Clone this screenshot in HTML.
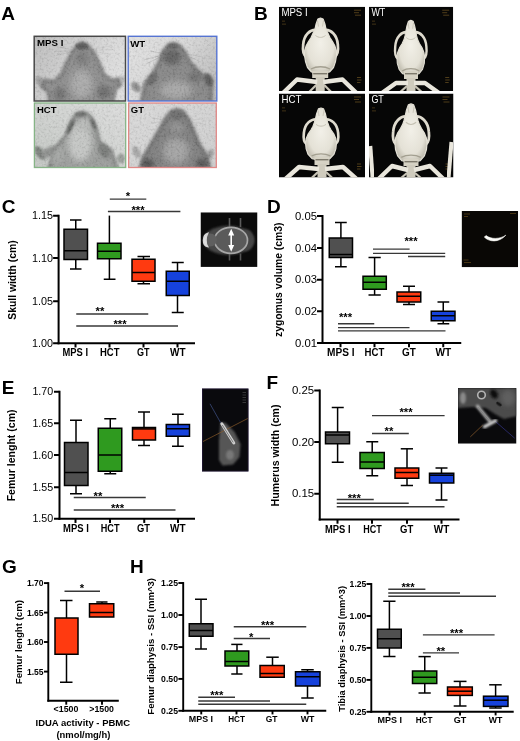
<!DOCTYPE html>
<html lang="en"><head><meta charset="utf-8"><title>Figure</title>
<style>html,body{margin:0;padding:0;background:#fff}svg{display:block;will-change:transform}text{font-family:"Liberation Sans",Arial,sans-serif}</style></head><body>
<svg width="520" height="741" viewBox="0 0 520 741">
<defs>
<filter id="b05" x="-30%" y="-30%" width="160%" height="160%"><feGaussianBlur stdDeviation="0.5"/></filter>
<filter id="b08" x="-30%" y="-30%" width="160%" height="160%"><feGaussianBlur stdDeviation="0.8"/></filter>
<filter id="b1" x="-30%" y="-30%" width="160%" height="160%"><feGaussianBlur stdDeviation="1"/></filter>
<filter id="b15" x="-30%" y="-30%" width="160%" height="160%"><feGaussianBlur stdDeviation="1.5"/></filter>
<filter id="b2" x="-30%" y="-30%" width="160%" height="160%"><feGaussianBlur stdDeviation="2"/></filter>
<filter id="b3" x="-30%" y="-30%" width="160%" height="160%"><feGaussianBlur stdDeviation="3"/></filter>
<filter id="b4" x="-30%" y="-30%" width="160%" height="160%"><feGaussianBlur stdDeviation="4"/></filter>
<filter id="grain" x="0" y="0" width="100%" height="100%"><feTurbulence type="fractalNoise" baseFrequency="0.45" numOctaves="2" seed="3" result="n"/><feColorMatrix in="n" type="matrix" values="2.6 0 0 0 -0.8  2.6 0 0 0 -0.8  2.6 0 0 0 -0.8  0 0 0 0 0.07"/></filter>
<linearGradient id="bgA1" x1="0" y1="0" x2="1" y2="0.3"><stop offset="0" stop-color="#bdbdbd"/><stop offset="0.5" stop-color="#cfcfcf"/><stop offset="1" stop-color="#dedede"/></linearGradient>
<linearGradient id="bgA2" x1="0" y1="0" x2="1" y2="0.6"><stop offset="0" stop-color="#e2e2e2"/><stop offset="0.55" stop-color="#d6d6d6"/><stop offset="1" stop-color="#bcbcbc"/></linearGradient>
<linearGradient id="bgA3" x1="0" y1="1" x2="1" y2="0"><stop offset="0" stop-color="#c2c6c2"/><stop offset="0.6" stop-color="#d2d4d2"/><stop offset="1" stop-color="#dcdcdc"/></linearGradient>
<linearGradient id="bgA4" x1="0" y1="0" x2="1" y2="1"><stop offset="0" stop-color="#d9d9d9"/><stop offset="1" stop-color="#cdcdcd"/></linearGradient>
<radialGradient id="skullG" cx="0.5" cy="0.45" r="0.6"><stop offset="0" stop-color="#f2f0e8"/><stop offset="0.7" stop-color="#e4e1d6"/><stop offset="1" stop-color="#bdb9ab"/></radialGradient>
<clipPath id="cA1"><rect x="34.2" y="36.3" width="91.3" height="64.7"/></clipPath>
<clipPath id="cA2"><rect x="128.2" y="36.3" width="88.6" height="64.7"/></clipPath>
<clipPath id="cA3"><rect x="34.4" y="103" width="91.3" height="64.5"/></clipPath>
<clipPath id="cA4"><rect x="128.6" y="103" width="87.7" height="64.5"/></clipPath>
<clipPath id="cB1"><rect x="279" y="6.7" width="86" height="84.3"/></clipPath>
<clipPath id="cB2"><rect x="369" y="6.7" width="84.2" height="84.3"/></clipPath>
<clipPath id="cB3"><rect x="279" y="93.5" width="86" height="84"/></clipPath>
<clipPath id="cB4"><rect x="369" y="93.5" width="84.5" height="84"/></clipPath>
<clipPath id="cC"><rect x="200.5" y="212.3" width="57" height="54.6"/></clipPath>
<clipPath id="cD"><rect x="461.6" y="211" width="56.5" height="56.3"/></clipPath>
<clipPath id="cE"><rect x="202" y="388.5" width="46.5" height="83"/></clipPath>
<clipPath id="cF"><rect x="458" y="388" width="58.5" height="55.7"/></clipPath>
</defs>
<g id="panelA">
<g clip-path="url(#cA1)">
<rect x="34.2" y="36.3" width="91.3" height="64.7" fill="url(#bgA1)"/>
<line x1="77" y1="50.5" x2="55" y2="46.5" stroke="#a2a2a2" stroke-width="0.5" opacity="0.8"/>
<line x1="77" y1="50.5" x2="54" y2="51.5" stroke="#a2a2a2" stroke-width="0.5" opacity="0.8"/>
<line x1="77" y1="50.5" x2="56" y2="55.5" stroke="#a2a2a2" stroke-width="0.5" opacity="0.8"/>
<line x1="88" y1="50.5" x2="112" y2="45.5" stroke="#bababa" stroke-width="0.5" opacity="0.8"/>
<line x1="88" y1="50.5" x2="113" y2="49.5" stroke="#bababa" stroke-width="0.5" opacity="0.8"/>
<line x1="88" y1="50.5" x2="111" y2="54.5" stroke="#bababa" stroke-width="0.5" opacity="0.8"/>
<ellipse cx="41" cy="82" rx="4.2" ry="6.5" fill="#9c9c9c" filter="url(#b1)" transform="rotate(-40 41 82)"/>
<ellipse cx="120.5" cy="81" rx="4" ry="6" fill="#b6b6b6" filter="url(#b1)" transform="rotate(40 120.5 81)"/>
<path d="M50 104 L48 91.5 L42 87 L45 80 L54 81.5 L61.5 74 L65.4 64.6 L71.2 53.8 L77 45.3 L82 42.3 L87.5 45 L94.2 53 L100 64.6 L103.8 74.2 L111.5 80 L118 79 L120 85.5 L115.4 89.6 L112.7 104 Z" fill="#8c8c8c" filter="url(#b1)"/>
<path d="M50 104 L48 91.5 L42 87 L45 80 L54 81.5 L61.5 74 L65.4 64.6 L71.2 53.8 L77 45.3 L82 42.3 L87.5 45 L94.2 53 L100 64.6 L103.8 74.2 L111.5 80 L118 79 L120 85.5 L115.4 89.6 L112.7 104" fill="none" stroke="#686868" stroke-width="3" stroke-linejoin="round" filter="url(#b15)" opacity="0.75"/>
<ellipse cx="82" cy="46.5" rx="6.2" ry="3.4" fill="#555555" filter="url(#b1)"/>
<ellipse cx="82" cy="58" rx="7" ry="7" fill="#7a7a7a" filter="url(#b2)"/>
<ellipse cx="81.5" cy="84" rx="11" ry="14" fill="#a9a9a9" filter="url(#b3)"/>
<ellipse cx="60" cy="94" rx="6" ry="7" fill="#707070" filter="url(#b2)"/>
<ellipse cx="104" cy="92" rx="7" ry="7" fill="#6c6c6c" filter="url(#b2)"/>
<rect x="34.2" y="36.3" width="91.3" height="64.7" filter="url(#grain)"/>
</g>
<rect x="34.2" y="36.3" width="91.3" height="64.7" fill="none" stroke="#484848" stroke-width="1.5"/>
<text x="37" y="46.3" font-size="9.9" font-weight="700" textLength="26.4" lengthAdjust="spacingAndGlyphs">MPS I</text>
<g clip-path="url(#cA2)">
<rect x="128.2" y="36.3" width="88.6" height="64.7" fill="url(#bgA2)"/>
<line x1="166" y1="54" x2="144" y2="60" stroke="#9c9c9c" stroke-width="0.5" opacity="0.8"/>
<line x1="166" y1="54" x2="146" y2="64" stroke="#9c9c9c" stroke-width="0.5" opacity="0.8"/>
<line x1="166" y1="54" x2="150" y2="51" stroke="#9c9c9c" stroke-width="0.5" opacity="0.8"/>
<line x1="181" y1="53" x2="203" y2="57" stroke="#aaa" stroke-width="0.5" opacity="0.8"/>
<line x1="181" y1="53" x2="201" y2="62" stroke="#aaa" stroke-width="0.5" opacity="0.8"/>
<ellipse cx="136" cy="87" rx="4" ry="6" fill="#8e8e8e" filter="url(#b1)" transform="rotate(-40 136 87)"/>
<path d="M141 104 L145 83 L153 73 L159.5 61 L163 51.5 L168 45.5 L173 43.3 L179 45.5 L184.5 51.5 L190.5 63 L201 74 L211.5 80 L211 104 Z" fill="#868686" filter="url(#b1)"/>
<path d="M141 104 L145 83 L153 73 L159.5 61 L163 51.5 L168 45.5 L173 43.3 L179 45.5 L184.5 51.5 L190.5 63 L201 74 L211.5 80 L211 104" fill="none" stroke="#636363" stroke-width="3.5" stroke-linejoin="round" filter="url(#b15)" opacity="0.75"/>
<ellipse cx="172" cy="57" rx="9" ry="8" fill="#606060" filter="url(#b2)"/>
<ellipse cx="173" cy="46.5" rx="6" ry="3" fill="#646464" filter="url(#b1)"/>
<ellipse cx="176" cy="90" rx="16" ry="9" fill="#a6a6a6" filter="url(#b3)"/>
<ellipse cx="152.5" cy="79" rx="4" ry="7" fill="#686868" filter="url(#b1)" transform="rotate(30 152.5 79)"/>
<ellipse cx="208.5" cy="80" rx="4" ry="7" fill="#5c5c5c" filter="url(#b1)" transform="rotate(-15 208.5 80)"/>
<ellipse cx="195" cy="77" rx="7" ry="5" fill="#6e6e6e" filter="url(#b2)"/>
<rect x="128.2" y="36.3" width="88.6" height="64.7" filter="url(#grain)"/>
</g>
<rect x="128.2" y="36.3" width="88.6" height="64.7" fill="none" stroke="#5674d2" stroke-width="1.4"/>
<text x="130.2" y="46.6" font-size="9.9" font-weight="700" textLength="15" lengthAdjust="spacingAndGlyphs">WT</text>
<g clip-path="url(#cA3)">
<rect x="34.4" y="103" width="91.3" height="64.5" fill="url(#bgA3)"/>
<ellipse cx="40" cy="153" rx="4" ry="8" fill="#7c807c" filter="url(#b1)" transform="rotate(-35 40 153)"/>
<ellipse cx="49" cy="152" rx="9" ry="4.5" fill="#8c8e8c" filter="url(#b15)" transform="rotate(-28 49 152)"/>
<ellipse cx="121" cy="158.5" rx="4" ry="5" fill="#9a9e9a" filter="url(#b1)"/>
<path d="M48 171 L55 148 L65.5 136 L69 126 L72.5 119 L77 114 L82 112 L87 113.5 L91.5 117.5 L96.5 129 L99.5 142 L111 150 L118 171 Z" fill="#9a9c9a" filter="url(#b1)"/>
<path d="M48 171 L55 148 L65.5 136 L69 126 L72.5 119 L77 114 L82 112 L87 113.5 L91.5 117.5 L96.5 129 L99.5 142 L111 150 L118 171" fill="none" stroke="#6a6c6a" stroke-width="3" stroke-linejoin="round" filter="url(#b15)" opacity="0.75"/>
<ellipse cx="80" cy="142" rx="12" ry="19" fill="#c4c6c4" filter="url(#b3)"/>
<ellipse cx="84" cy="125" rx="6" ry="7" fill="#b8bab8" filter="url(#b2)"/>
<ellipse cx="80.5" cy="114.5" rx="6" ry="2.6" fill="#6e706e" filter="url(#b1)"/>
<ellipse cx="70.5" cy="127" rx="2" ry="8" fill="#5c5e5c" filter="url(#b1)" transform="rotate(25 70.5 127)"/>
<ellipse cx="93.5" cy="124" rx="2" ry="6" fill="#666866" filter="url(#b1)" transform="rotate(-20 93.5 124)"/>
<ellipse cx="104" cy="151" rx="5" ry="8" fill="#787a78" filter="url(#b15)" transform="rotate(-30 104 151)"/>
<ellipse cx="58" cy="156" rx="6" ry="9" fill="#a2a4a2" filter="url(#b2)" transform="rotate(25 58 156)"/>
<rect x="34.4" y="103" width="91.3" height="64.5" filter="url(#grain)"/>
</g>
<rect x="34.4" y="103" width="91.3" height="64.5" fill="none" stroke="#86b486" stroke-width="1.3"/>
<text x="37" y="112.9" font-size="9.9" font-weight="700" textLength="19.5" lengthAdjust="spacingAndGlyphs">HCT</text>
<g clip-path="url(#cA4)">
<rect x="128.6" y="103" width="87.7" height="64.5" fill="url(#bgA4)"/>
<line x1="170" y1="121" x2="152" y2="118" stroke="#b0b0b0" stroke-width="0.5" opacity="0.8"/>
<line x1="170" y1="121" x2="151" y2="123" stroke="#b0b0b0" stroke-width="0.5" opacity="0.8"/>
<line x1="184" y1="121" x2="203" y2="119" stroke="#b8b8b8" stroke-width="0.5" opacity="0.8"/>
<line x1="184" y1="121" x2="204" y2="124" stroke="#b8b8b8" stroke-width="0.5" opacity="0.8"/>
<ellipse cx="136.5" cy="152" rx="3.5" ry="6.5" fill="#a4a4a4" filter="url(#b1)" transform="rotate(-25 136.5 152)"/>
<ellipse cx="210.5" cy="154" rx="3" ry="5" fill="#9c9c9c" filter="url(#b1)" transform="rotate(20 210.5 154)"/>
<path d="M140 171 L143 158 L151 144 L158.5 131 L166 117.5 L171 111.5 L177 109.5 L183 111.5 L187.5 117.5 L193 129 L199 144 L207 156 L210 171 Z" fill="#7e7e7e" filter="url(#b1)"/>
<path d="M140 171 L143 158 L151 144 L158.5 131 L166 117.5 L171 111.5 L177 109.5 L183 111.5 L187.5 117.5 L193 129 L199 144 L207 156 L210 171" fill="none" stroke="#5e5e5e" stroke-width="3.5" stroke-linejoin="round" filter="url(#b15)" opacity="0.75"/>
<ellipse cx="177" cy="115.5" rx="7" ry="4.5" fill="#6c6c6c" filter="url(#b1)"/>
<ellipse cx="176" cy="151" rx="13" ry="13" fill="#a2a2a2" filter="url(#b3)"/>
<ellipse cx="176.5" cy="128" rx="7" ry="5" fill="#909090" filter="url(#b2)"/>
<ellipse cx="148" cy="164" rx="6" ry="5" fill="#4c4c4c" filter="url(#b2)"/>
<ellipse cx="202" cy="163.5" rx="6" ry="5" fill="#525252" filter="url(#b2)"/>
<rect x="128.6" y="103" width="87.7" height="64.5" filter="url(#grain)"/>
</g>
<rect x="128.6" y="103" width="87.7" height="64.5" fill="none" stroke="#e08886" stroke-width="1.3"/>
<text x="130.8" y="112.9" font-size="9.9" font-weight="700" textLength="13.2" lengthAdjust="spacingAndGlyphs">GT</text>
</g>
<g id="panelB">
<g clip-path="url(#cB1)">
<rect x="279" y="6.7" width="86" height="84.3" fill="#060606"/>
<rect x="354" y="9.7" width="7" height="1" fill="#8a6a2a" opacity="0.55"/>
<rect x="354" y="12.2" width="5" height="1" fill="#8a6a2a" opacity="0.55"/>
<rect x="355" y="14.7" width="6" height="1" fill="#8a6a2a" opacity="0.55"/>
<rect x="357" y="77" width="4" height="1" fill="#8a6a2a" opacity="0.55"/>
<rect x="357" y="79.5" width="4.5" height="1" fill="#8a6a2a" opacity="0.55"/>
<rect x="357" y="82" width="3.5" height="1" fill="#8a6a2a" opacity="0.55"/>
<rect x="282" y="20.7" width="3" height="0.8" fill="#8a6a2a" opacity="0.55"/>
<rect x="282" y="23.7" width="4" height="0.8" fill="#8a6a2a" opacity="0.55"/>
<g transform="translate(320.5 50.5) scale(1 1)">
<path d="M-4.5 -20.5 C-10 -21 -16.5 -16 -17.3 -6 C-18 0 -17.5 4 -14.5 6" fill="none" stroke="#dedace" stroke-width="2.7" stroke-linecap="round" filter="url(#b05)"/>
<path d="M4.5 -20.5 C10 -21 16.5 -16 17.3 -6 C18 0 17.5 4 14.5 6" fill="none" stroke="#dedace" stroke-width="2.7" stroke-linecap="round" filter="url(#b05)"/>
<path d="M0 -32.5 L2.6 -31.5 L4.4 -26.5 L5.6 -21 L7.6 -17 L9.4 -13 L12 -9 L14.2 -5 L15.8 0 L16 5 L15 11 L13 17 L9 21.5 L0 23.3 L-9 21.5 L-13 17 L-15 11 L-16 5 L-15.8 0 L-14.2 -5 L-12 -9 L-9.4 -13 L-7.6 -17 L-5.6 -21 L-4.4 -26.5 L-2.6 -31.5 Z" fill="url(#skullG)" stroke="#e4e1d6" stroke-width="1.2" stroke-linejoin="round" filter="url(#b05)"/>
<path d="M-9.5 18.5 C-4 15.5 4 15.5 9.5 18.5" fill="none" stroke="#a39f90" stroke-width="1.3" filter="url(#b05)"/>
<path d="M-5 -15 C-2 -12.5 2 -12.5 5 -15" fill="none" stroke="#c4c0b2" stroke-width="1" filter="url(#b05)"/>
<path d="M0 -12 L0 14" fill="none" stroke="#d3cfc2" stroke-width="0.8" filter="url(#b05)"/>
<path d="M-3 -30 L-2 -24 M3 -30 L2 -24" fill="none" stroke="#bdb9ab" stroke-width="0.7" filter="url(#b05)"/>
</g>
<rect x="312.2" y="71" width="16" height="7" fill="#d6d2c4" filter="url(#b05)"/>
<rect x="313.2" y="73" width="14" height="1.4" fill="#7d796c"/>
<rect x="315.7" y="77" width="9" height="15" fill="#cfcbbd" filter="url(#b05)"/>
<path d="M316.2 85 L307.2 94" fill="none" stroke="#c9c5b7" stroke-width="2.2" filter="url(#b05)"/>
<path d="M324.2 85 L333.2 94" fill="none" stroke="#c9c5b7" stroke-width="2.2" filter="url(#b05)"/>
<path d="M317.2 82 L297 79.5 L283 93" fill="none" stroke="#e9e6dc" stroke-width="4.4" stroke-linejoin="round" filter="url(#b05)"/>
<path d="M323.2 82 L342.5 79.5 L356.5 93" fill="none" stroke="#e9e6dc" stroke-width="4.4" stroke-linejoin="round" filter="url(#b05)"/>
</g>
<text x="281.4" y="16.3" font-size="10.2" textLength="26.3" lengthAdjust="spacingAndGlyphs" fill="#fff">MPS I</text>
<g clip-path="url(#cB2)">
<rect x="369" y="6.7" width="84.2" height="84.3" fill="#060606"/>
<rect x="442.2" y="9.7" width="7" height="1" fill="#8a6a2a" opacity="0.55"/>
<rect x="442.2" y="12.2" width="5" height="1" fill="#8a6a2a" opacity="0.55"/>
<rect x="443.2" y="14.7" width="6" height="1" fill="#8a6a2a" opacity="0.55"/>
<rect x="445.2" y="77" width="4" height="1" fill="#8a6a2a" opacity="0.55"/>
<rect x="445.2" y="79.5" width="4.5" height="1" fill="#8a6a2a" opacity="0.55"/>
<rect x="445.2" y="82" width="3.5" height="1" fill="#8a6a2a" opacity="0.55"/>
<rect x="372" y="20.7" width="3" height="0.8" fill="#8a6a2a" opacity="0.55"/>
<rect x="372" y="23.7" width="4" height="0.8" fill="#8a6a2a" opacity="0.55"/>
<g transform="translate(410.8 52.5) scale(0.9 0.99)">
<path d="M-4.5 -20.5 C-10 -21 -16.5 -16 -17.3 -6 C-18 0 -17.5 4 -14.5 6" fill="none" stroke="#dedace" stroke-width="2.7" stroke-linecap="round" filter="url(#b05)"/>
<path d="M4.5 -20.5 C10 -21 16.5 -16 17.3 -6 C18 0 17.5 4 14.5 6" fill="none" stroke="#dedace" stroke-width="2.7" stroke-linecap="round" filter="url(#b05)"/>
<path d="M0 -32.5 L2.6 -31.5 L4.4 -26.5 L5.6 -21 L6.4 -17 L7.6 -13 L9.6 -9 L12.4 -5 L14.6 0 L15.4 5 L15 11 L13 17 L9 21.5 L0 23.3 L-9 21.5 L-13 17 L-15 11 L-15.4 5 L-14.6 0 L-12.4 -5 L-9.6 -9 L-7.6 -13 L-6.4 -17 L-5.6 -21 L-4.4 -26.5 L-2.6 -31.5 Z" fill="url(#skullG)" stroke="#e4e1d6" stroke-width="1.2" stroke-linejoin="round" filter="url(#b05)"/>
<path d="M-9.5 18.5 C-4 15.5 4 15.5 9.5 18.5" fill="none" stroke="#a39f90" stroke-width="1.3" filter="url(#b05)"/>
<path d="M-5 -15 C-2 -12.5 2 -12.5 5 -15" fill="none" stroke="#c4c0b2" stroke-width="1" filter="url(#b05)"/>
<path d="M0 -12 L0 14" fill="none" stroke="#d3cfc2" stroke-width="0.8" filter="url(#b05)"/>
<path d="M-3 -30 L-2 -24 M3 -30 L2 -24" fill="none" stroke="#bdb9ab" stroke-width="0.7" filter="url(#b05)"/>
</g>
<rect x="404" y="71" width="14" height="8" fill="#d6d2c4" filter="url(#b05)"/>
<rect x="405" y="73" width="12" height="1.4" fill="#7d796c"/>
<rect x="406.5" y="78" width="9" height="14" fill="#cfcbbd" filter="url(#b05)"/>
<path d="M407 86 L398 94" fill="none" stroke="#c9c5b7" stroke-width="2.2" filter="url(#b05)"/>
<path d="M415 86 L424 94" fill="none" stroke="#c9c5b7" stroke-width="2.2" filter="url(#b05)"/>
<path d="M408 83 L396 83 L382 93" fill="none" stroke="#e9e6dc" stroke-width="4.4" stroke-linejoin="round" filter="url(#b05)"/>
<path d="M414 83 L425 83 L439 93" fill="none" stroke="#e9e6dc" stroke-width="4.4" stroke-linejoin="round" filter="url(#b05)"/>
</g>
<text x="371.4" y="16.3" font-size="10.2" textLength="13.9" lengthAdjust="spacingAndGlyphs" fill="#fff">WT</text>
<g clip-path="url(#cB3)">
<rect x="279" y="93.5" width="86" height="84" fill="#060606"/>
<rect x="354" y="96.5" width="7" height="1" fill="#8a6a2a" opacity="0.55"/>
<rect x="354" y="99" width="5" height="1" fill="#8a6a2a" opacity="0.55"/>
<rect x="355" y="101.5" width="6" height="1" fill="#8a6a2a" opacity="0.55"/>
<rect x="357" y="163.5" width="4" height="1" fill="#8a6a2a" opacity="0.55"/>
<rect x="357" y="166" width="4.5" height="1" fill="#8a6a2a" opacity="0.55"/>
<rect x="357" y="168.5" width="3.5" height="1" fill="#8a6a2a" opacity="0.55"/>
<rect x="282" y="107.5" width="3" height="0.8" fill="#8a6a2a" opacity="0.55"/>
<rect x="282" y="110.5" width="4" height="0.8" fill="#8a6a2a" opacity="0.55"/>
<g transform="translate(321 138.5) scale(0.99 0.94)">
<path d="M-4.5 -20.5 C-10 -21 -16.5 -16 -17.3 -6 C-18 0 -17.5 4 -14.5 6" fill="none" stroke="#dedace" stroke-width="2.7" stroke-linecap="round" filter="url(#b05)"/>
<path d="M4.5 -20.5 C10 -21 16.5 -16 17.3 -6 C18 0 17.5 4 14.5 6" fill="none" stroke="#dedace" stroke-width="2.7" stroke-linecap="round" filter="url(#b05)"/>
<path d="M0 -32.5 L2.6 -31.5 L4.4 -26.5 L5.6 -21 L6.7 -17 L8.05 -13 L10.2 -9 L12.85 -5 L14.9 0 L15.55 5 L15 11 L13 17 L9 21.5 L0 23.3 L-9 21.5 L-13 17 L-15 11 L-15.55 5 L-14.9 0 L-12.85 -5 L-10.2 -9 L-8.05 -13 L-6.7 -17 L-5.6 -21 L-4.4 -26.5 L-2.6 -31.5 Z" fill="url(#skullG)" stroke="#e4e1d6" stroke-width="1.2" stroke-linejoin="round" filter="url(#b05)"/>
<path d="M-9.5 18.5 C-4 15.5 4 15.5 9.5 18.5" fill="none" stroke="#a39f90" stroke-width="1.3" filter="url(#b05)"/>
<path d="M-5 -15 C-2 -12.5 2 -12.5 5 -15" fill="none" stroke="#c4c0b2" stroke-width="1" filter="url(#b05)"/>
<path d="M0 -12 L0 14" fill="none" stroke="#d3cfc2" stroke-width="0.8" filter="url(#b05)"/>
<path d="M-3 -30 L-2 -24 M3 -30 L2 -24" fill="none" stroke="#bdb9ab" stroke-width="0.7" filter="url(#b05)"/>
</g>
<rect x="314.5" y="157" width="15" height="8" fill="#d6d2c4" filter="url(#b05)"/>
<rect x="315.5" y="159" width="13" height="1.4" fill="#7d796c"/>
<rect x="317.5" y="164" width="9" height="14.5" fill="#cfcbbd" filter="url(#b05)"/>
<path d="M318 172 L309 180.5" fill="none" stroke="#c9c5b7" stroke-width="2.2" filter="url(#b05)"/>
<path d="M326 172 L335 180.5" fill="none" stroke="#c9c5b7" stroke-width="2.2" filter="url(#b05)"/>
<path d="M319 169 L299 167 L285 179.5" fill="none" stroke="#e9e6dc" stroke-width="4.4" stroke-linejoin="round" filter="url(#b05)"/>
<path d="M325 169 L343 167 L357 179.5" fill="none" stroke="#e9e6dc" stroke-width="4.4" stroke-linejoin="round" filter="url(#b05)"/>
</g>
<text x="281.4" y="103.1" font-size="10.2" textLength="19.9" lengthAdjust="spacingAndGlyphs" fill="#fff">HCT</text>
<g clip-path="url(#cB4)">
<rect x="369" y="93.5" width="84.5" height="84" fill="#060606"/>
<rect x="442.5" y="96.5" width="7" height="1" fill="#8a6a2a" opacity="0.55"/>
<rect x="442.5" y="99" width="5" height="1" fill="#8a6a2a" opacity="0.55"/>
<rect x="443.5" y="101.5" width="6" height="1" fill="#8a6a2a" opacity="0.55"/>
<rect x="445.5" y="163.5" width="4" height="1" fill="#8a6a2a" opacity="0.55"/>
<rect x="445.5" y="166" width="4.5" height="1" fill="#8a6a2a" opacity="0.55"/>
<rect x="445.5" y="168.5" width="3.5" height="1" fill="#8a6a2a" opacity="0.55"/>
<rect x="372" y="107.5" width="3" height="0.8" fill="#8a6a2a" opacity="0.55"/>
<rect x="372" y="110.5" width="4" height="0.8" fill="#8a6a2a" opacity="0.55"/>
<g transform="translate(411 138) scale(1.03 1.05)">
<path d="M-4.5 -20.5 C-10 -21 -16.5 -16 -17.3 -6 C-18 0 -17.5 4 -14.5 6" fill="none" stroke="#dedace" stroke-width="2.7" stroke-linecap="round" filter="url(#b05)"/>
<path d="M4.5 -20.5 C10 -21 16.5 -16 17.3 -6 C18 0 17.5 4 14.5 6" fill="none" stroke="#dedace" stroke-width="2.7" stroke-linecap="round" filter="url(#b05)"/>
<path d="M0 -32.5 L2.6 -31.5 L4.4 -26.5 L5.6 -21 L6.7 -17 L8.05 -13 L10.2 -9 L12.85 -5 L14.9 0 L15.55 5 L15 11 L13 17 L9 21.5 L0 23.3 L-9 21.5 L-13 17 L-15 11 L-15.55 5 L-14.9 0 L-12.85 -5 L-10.2 -9 L-8.05 -13 L-6.7 -17 L-5.6 -21 L-4.4 -26.5 L-2.6 -31.5 Z" fill="url(#skullG)" stroke="#e4e1d6" stroke-width="1.2" stroke-linejoin="round" filter="url(#b05)"/>
<path d="M-9.5 18.5 C-4 15.5 4 15.5 9.5 18.5" fill="none" stroke="#a39f90" stroke-width="1.3" filter="url(#b05)"/>
<path d="M-5 -15 C-2 -12.5 2 -12.5 5 -15" fill="none" stroke="#c4c0b2" stroke-width="1" filter="url(#b05)"/>
<path d="M0 -12 L0 14" fill="none" stroke="#d3cfc2" stroke-width="0.8" filter="url(#b05)"/>
<path d="M-3 -30 L-2 -24 M3 -30 L2 -24" fill="none" stroke="#bdb9ab" stroke-width="0.7" filter="url(#b05)"/>
</g>
<rect x="403.5" y="159" width="15" height="7" fill="#d6d2c4" filter="url(#b05)"/>
<rect x="404.5" y="161" width="13" height="1.4" fill="#7d796c"/>
<rect x="406.5" y="165" width="9" height="13.5" fill="#cfcbbd" filter="url(#b05)"/>
<path d="M407 173 L398 180.5" fill="none" stroke="#c9c5b7" stroke-width="2.2" filter="url(#b05)"/>
<path d="M415 173 L424 180.5" fill="none" stroke="#c9c5b7" stroke-width="2.2" filter="url(#b05)"/>
<path d="M408 170 L392 166 L378 179.5" fill="none" stroke="#e9e6dc" stroke-width="4.4" stroke-linejoin="round" filter="url(#b05)"/>
<path d="M414 170 L430 166 L444 179.5" fill="none" stroke="#e9e6dc" stroke-width="4.4" stroke-linejoin="round" filter="url(#b05)"/>
<path d="M370.3 146 L372.6 178" stroke="#e9e6dc" stroke-width="4" fill="none" filter="url(#b05)"/>
<path d="M451.5 142 L448.5 178" stroke="#e9e6dc" stroke-width="4" fill="none" filter="url(#b05)"/>
</g>
<text x="371.4" y="103.1" font-size="10.2" textLength="12.4" lengthAdjust="spacingAndGlyphs" fill="#fff">GT</text>
</g>
<g id="insets">
<g clip-path="url(#cC)">
<rect x="200.5" y="212.3" width="57" height="54.6" fill="#0b0b0b"/>
<ellipse cx="228.5" cy="240.3" rx="25.5" ry="14.5" fill="#464646" filter="url(#b1)"/>
<ellipse cx="246" cy="240.3" rx="8" ry="11" fill="#444" filter="url(#b1)"/>
<rect x="228.7" y="218" width="1.6" height="9" fill="#5c5c5c" filter="url(#b05)"/>
<rect x="228.7" y="253.5" width="1.6" height="7" fill="#545454" filter="url(#b05)"/>
<rect x="239.7" y="218" width="1.6" height="9" fill="#5c5c5c" filter="url(#b05)"/>
<rect x="239.7" y="253.5" width="1.6" height="7" fill="#545454" filter="url(#b05)"/>
<ellipse cx="231" cy="240.3" rx="16.5" ry="13" fill="#5a5a5a" stroke="#a6a6a6" stroke-width="1.7" filter="url(#b05)"/>
<ellipse cx="210.5" cy="240" rx="6.5" ry="6.5" fill="#5e5e5e" filter="url(#b05)"/>
<path d="M207.5 233.5 C202.5 235 202 245.5 207.5 246.5 C205.5 243.5 205.5 237 207.5 233.5 Z" fill="#e6e6e6" stroke="#d8d8d8" stroke-width="1.6" filter="url(#b05)"/>
<path d="M231.2 228.8 L234.2 235.6 L232 235.6 L232 245 L234.2 245 L231.2 251.8 L228.2 245 L230.4 245 L230.4 235.6 L228.2 235.6 Z" fill="#fff"/>
</g>
<g clip-path="url(#cD)">
<rect x="461.6" y="211" width="56.5" height="56.3" fill="#090705"/>
<rect x="464" y="213.5" width="6" height="1" fill="#7a5a1e" opacity="0.55"/>
<rect x="464" y="216" width="4" height="1" fill="#7a5a1e" opacity="0.55"/>
<rect x="510" y="213" width="6" height="1" fill="#7a5a1e" opacity="0.55"/>
<rect x="463.5" y="259.5" width="5" height="1" fill="#7a5a1e" opacity="0.55"/>
<rect x="464" y="262" width="7" height="1" fill="#7a5a1e" opacity="0.55"/>
<path d="M484.3 237 C489 242 499 243 505.8 235.2 C500 239.2 491 239.6 486.2 235.6 Z" fill="#fbfbf8" stroke="#fbfbf8" stroke-width="0.6" stroke-linejoin="round" filter="url(#b05)"/>
</g>
<g clip-path="url(#cE)">
<rect x="202" y="388.5" width="46.5" height="83" fill="#0a0a0d"/>
<rect x="202" y="388.5" width="46.5" height="83" fill="none" stroke="#241a3a" stroke-width="1.5"/>
<path d="M220.5 422 L225.5 423 L234.5 432 L240.5 444 L239.5 457 L233 464.5 L222.5 465.5 L219 460 L219 441 Z" fill="#565656" filter="url(#b08)"/>
<ellipse cx="230" cy="455" rx="4" ry="5" fill="#787878" filter="url(#b1)"/>
<line x1="203" y1="441.5" x2="247.7" y2="418.5" stroke="#8a5a2a" stroke-width="0.7"/>
<line x1="210" y1="403.8" x2="220.5" y2="422.5" stroke="#3a4a7a" stroke-width="0.8"/>
<path d="M221.8 423.8 L233.8 443" fill="none" stroke="#cfcfcf" stroke-width="3" stroke-linecap="round" filter="url(#b05)"/>
<path d="M222.3 425 L233.2 442.4" fill="none" stroke="#707070" stroke-width="0.9" filter="url(#b05)"/>
<rect x="242.5" y="392" width="3.5" height="1" fill="#555" opacity="0.6"/>
<rect x="242.5" y="394.5" width="3.5" height="1" fill="#555" opacity="0.6"/>
<rect x="242.5" y="397" width="3.5" height="1" fill="#555" opacity="0.6"/>
<rect x="242.5" y="399.5" width="3.5" height="1" fill="#555" opacity="0.6"/>
<rect x="242.5" y="402" width="3.5" height="1" fill="#555" opacity="0.6"/>
</g>
<g clip-path="url(#cF)">
<rect x="458" y="388" width="58.5" height="55.7" fill="#0a0a0c"/>
<path d="M458 388 L516.5 388 L516.5 416 L504 419 L495 414 L486 408 L472 407 L458 408 Z" fill="#4c4c4c" filter="url(#b08)"/>
<ellipse cx="508" cy="398" rx="7" ry="8" fill="#5e5e5e" filter="url(#b2)"/>
<ellipse cx="494" cy="394" rx="3.5" ry="5" fill="#101010" filter="url(#b08)" transform="rotate(-30 494 394)"/>
<ellipse cx="499" cy="404" rx="3" ry="1.5" fill="#141414" filter="url(#b05)" transform="rotate(35 499 404)"/>
<circle cx="481.5" cy="395" r="3.8" fill="#3c3c3c" stroke="#b4b4b4" stroke-width="1.6" filter="url(#b05)"/>
<ellipse cx="463" cy="398" rx="3" ry="6" fill="#8a8a8a" filter="url(#b1)"/>
<line x1="482.7" y1="425.1" x2="470.3" y2="436.9" stroke="#8a5a2a" stroke-width="0.7"/>
<line x1="495.1" y1="421.2" x2="514.7" y2="438.2" stroke="#2e2e78" stroke-width="0.8"/>
<path d="M477.5 406.2 L490 421.5" fill="none" stroke="#b4b4b4" stroke-width="3.2" stroke-linecap="round" filter="url(#b08)"/>
<path d="M478 407.2 L489.4 421" fill="none" stroke="#7a7a7a" stroke-width="0.9" filter="url(#b05)"/>
<path d="M484.5 426.8 L495.5 420.8" fill="none" stroke="#cccccc" stroke-width="3.4" stroke-linecap="round" filter="url(#b08)"/>
</g>
</g>
<g id="letters">
<text x="1.2" y="19.7" font-size="19" font-weight="700">A</text>
<text x="254" y="19.5" font-size="19" font-weight="700">B</text>
<text x="1.7" y="212.9" font-size="19" font-weight="700">C</text>
<text x="267" y="212.7" font-size="19" font-weight="700">D</text>
<text x="1.8" y="393.5" font-size="19" font-weight="700">E</text>
<text x="266.6" y="389.1" font-size="19" font-weight="700">F</text>
<text x="1.9" y="572.5" font-size="19" font-weight="700">G</text>
<text x="130.1" y="572.5" font-size="19" font-weight="700">H</text>
</g>
<g id="panelC">
<line x1="58.6" y1="214.75" x2="58.6" y2="344.25" stroke="#000" stroke-width="2"/>
<line x1="57.6" y1="343.25" x2="195" y2="343.25" stroke="#000" stroke-width="2"/>
<line x1="53.1" y1="215.75" x2="58.6" y2="215.75" stroke="#000" stroke-width="2"/>
<line x1="53.1" y1="258" x2="58.6" y2="258" stroke="#000" stroke-width="2"/>
<line x1="53.1" y1="301.25" x2="58.6" y2="301.25" stroke="#000" stroke-width="2"/>
<line x1="53.1" y1="343.25" x2="58.6" y2="343.25" stroke="#000" stroke-width="2"/>
<line x1="75.5" y1="343.25" x2="75.5" y2="347.45" stroke="#000" stroke-width="2"/>
<line x1="109.5" y1="343.25" x2="109.5" y2="347.45" stroke="#000" stroke-width="2"/>
<line x1="143.5" y1="343.25" x2="143.5" y2="347.45" stroke="#000" stroke-width="2"/>
<line x1="177.5" y1="343.25" x2="177.5" y2="347.45" stroke="#000" stroke-width="2"/>
<text x="52.9" y="219.45" font-size="10.7" text-anchor="end" textLength="21" lengthAdjust="spacingAndGlyphs">1.15</text>
<text x="52.9" y="261.7" font-size="10.7" text-anchor="end" textLength="21" lengthAdjust="spacingAndGlyphs">1.10</text>
<text x="52.9" y="304.95" font-size="10.7" text-anchor="end" textLength="21" lengthAdjust="spacingAndGlyphs">1.05</text>
<text x="52.9" y="346.95" font-size="10.7" text-anchor="end" textLength="21" lengthAdjust="spacingAndGlyphs">1.00</text>
<text x="16" y="280" font-size="10.6" font-weight="700" text-anchor="middle" textLength="79.3" lengthAdjust="spacingAndGlyphs" transform="rotate(-90 16 280)">Skull width (cm)</text>
<line x1="75.75" y1="220" x2="75.75" y2="229.25" stroke="#000" stroke-width="1.5"/>
<line x1="70" y1="220" x2="81.5" y2="220" stroke="#000" stroke-width="1.5"/>
<line x1="75.75" y1="259.5" x2="75.75" y2="269" stroke="#000" stroke-width="1.5"/>
<line x1="70" y1="269" x2="81.5" y2="269" stroke="#000" stroke-width="1.5"/>
<rect x="64" y="229.25" width="23.5" height="30.25" fill="#505050" stroke="#000" stroke-width="1.5"/>
<line x1="64" y1="250.75" x2="87.5" y2="250.75" stroke="#000" stroke-width="1.5"/>
<line x1="109.4" y1="215.6" x2="109.4" y2="243.25" stroke="#000" stroke-width="1.5"/>
<line x1="109.4" y1="258.75" x2="109.4" y2="279.25" stroke="#000" stroke-width="1.5"/>
<line x1="103.75" y1="279.25" x2="115.5" y2="279.25" stroke="#000" stroke-width="1.5"/>
<rect x="97.5" y="243.25" width="23.5" height="15.5" fill="#2f9a1f" stroke="#000" stroke-width="1.5"/>
<line x1="97.5" y1="251.25" x2="121" y2="251.25" stroke="#000" stroke-width="1.5"/>
<line x1="143.5" y1="256.5" x2="143.5" y2="259.25" stroke="#000" stroke-width="1.5"/>
<line x1="137.5" y1="256.5" x2="150" y2="256.5" stroke="#000" stroke-width="1.5"/>
<line x1="143.5" y1="281.25" x2="143.5" y2="283.75" stroke="#000" stroke-width="1.5"/>
<line x1="137.5" y1="283.75" x2="150" y2="283.75" stroke="#000" stroke-width="1.5"/>
<rect x="132" y="259.25" width="23" height="22" fill="#ff3a10" stroke="#000" stroke-width="1.5"/>
<line x1="132" y1="272.5" x2="155" y2="272.5" stroke="#000" stroke-width="1.5"/>
<line x1="177.5" y1="262.5" x2="177.5" y2="271.25" stroke="#000" stroke-width="1.5"/>
<line x1="171.75" y1="262.5" x2="183.75" y2="262.5" stroke="#000" stroke-width="1.5"/>
<line x1="177.5" y1="295.5" x2="177.5" y2="312.5" stroke="#000" stroke-width="1.5"/>
<line x1="171.75" y1="312.5" x2="183.75" y2="312.5" stroke="#000" stroke-width="1.5"/>
<rect x="166.25" y="271.25" width="23" height="24.25" fill="#1642dc" stroke="#000" stroke-width="1.5"/>
<line x1="166.25" y1="281.25" x2="189.25" y2="281.25" stroke="#000" stroke-width="1.5"/>
<line x1="109.8" y1="199.2" x2="146.3" y2="199.2" stroke="#383838" stroke-width="1.3"/>
<text x="127.9" y="199.85" font-size="11.3" font-weight="700" text-anchor="middle">*</text>
<line x1="107.9" y1="211.5" x2="180.4" y2="211.5" stroke="#383838" stroke-width="1.3"/>
<text x="138" y="214.15" font-size="11.3" font-weight="700" text-anchor="middle">***</text>
<line x1="76.25" y1="314" x2="148.25" y2="314" stroke="#383838" stroke-width="1.3"/>
<text x="100" y="315.15" font-size="11.3" font-weight="700" text-anchor="middle">**</text>
<line x1="76.25" y1="326" x2="178" y2="326" stroke="#383838" stroke-width="1.3"/>
<text x="120" y="327.65" font-size="11.3" font-weight="700" text-anchor="middle">***</text>
<text x="75.25" y="355.6" font-size="10.4" font-weight="700" text-anchor="middle" textLength="25.5" lengthAdjust="spacingAndGlyphs">MPS I</text>
<text x="109.75" y="355.6" font-size="10.4" font-weight="700" text-anchor="middle" textLength="19.5" lengthAdjust="spacingAndGlyphs">HCT</text>
<text x="143.25" y="355.6" font-size="10.4" font-weight="700" text-anchor="middle" textLength="12.5" lengthAdjust="spacingAndGlyphs">GT</text>
<text x="177.75" y="355.6" font-size="10.4" font-weight="700" text-anchor="middle" textLength="15.5" lengthAdjust="spacingAndGlyphs">WT</text>
</g>
<g id="panelD">
<line x1="322.5" y1="215" x2="322.5" y2="344" stroke="#000" stroke-width="2"/>
<line x1="321.5" y1="343" x2="461.25" y2="343" stroke="#000" stroke-width="2"/>
<line x1="317" y1="216" x2="322.5" y2="216" stroke="#000" stroke-width="2"/>
<line x1="317" y1="248" x2="322.5" y2="248" stroke="#000" stroke-width="2"/>
<line x1="317" y1="279.75" x2="322.5" y2="279.75" stroke="#000" stroke-width="2"/>
<line x1="317" y1="311.25" x2="322.5" y2="311.25" stroke="#000" stroke-width="2"/>
<line x1="317" y1="343" x2="322.5" y2="343" stroke="#000" stroke-width="2"/>
<line x1="340.5" y1="343" x2="340.5" y2="347.2" stroke="#000" stroke-width="2"/>
<line x1="374.5" y1="343" x2="374.5" y2="347.2" stroke="#000" stroke-width="2"/>
<line x1="409" y1="343" x2="409" y2="347.2" stroke="#000" stroke-width="2"/>
<line x1="443.25" y1="343" x2="443.25" y2="347.2" stroke="#000" stroke-width="2"/>
<text x="317" y="219.7" font-size="10.7" text-anchor="end" textLength="22" lengthAdjust="spacingAndGlyphs">0.05</text>
<text x="317" y="251.7" font-size="10.7" text-anchor="end" textLength="22" lengthAdjust="spacingAndGlyphs">0.04</text>
<text x="317" y="283.45" font-size="10.7" text-anchor="end" textLength="22" lengthAdjust="spacingAndGlyphs">0.03</text>
<text x="317" y="314.95" font-size="10.7" text-anchor="end" textLength="22" lengthAdjust="spacingAndGlyphs">0.02</text>
<text x="317" y="346.7" font-size="10.7" text-anchor="end" textLength="22" lengthAdjust="spacingAndGlyphs">0.01</text>
<text x="282.3" y="279.8" font-size="10.3" font-weight="700" text-anchor="middle" textLength="114.4" lengthAdjust="spacingAndGlyphs" transform="rotate(-90 282.3 279.8)">zygomus volume (cm3)</text>
<line x1="340.9" y1="222.5" x2="340.9" y2="238" stroke="#000" stroke-width="1.5"/>
<line x1="335" y1="222.5" x2="346.75" y2="222.5" stroke="#000" stroke-width="1.5"/>
<line x1="340.9" y1="257.5" x2="340.9" y2="266.75" stroke="#000" stroke-width="1.5"/>
<line x1="335" y1="266.75" x2="346.75" y2="266.75" stroke="#000" stroke-width="1.5"/>
<rect x="329.25" y="238" width="23.25" height="19.5" fill="#505050" stroke="#000" stroke-width="1.5"/>
<line x1="329.25" y1="254.5" x2="352.5" y2="254.5" stroke="#000" stroke-width="1.5"/>
<line x1="374.6" y1="257.5" x2="374.6" y2="276.25" stroke="#000" stroke-width="1.5"/>
<line x1="368.5" y1="257.5" x2="380.75" y2="257.5" stroke="#000" stroke-width="1.5"/>
<line x1="374.6" y1="289.25" x2="374.6" y2="295" stroke="#000" stroke-width="1.5"/>
<line x1="368.5" y1="295" x2="380.75" y2="295" stroke="#000" stroke-width="1.5"/>
<rect x="363" y="276.25" width="23.3" height="13" fill="#2f9a1f" stroke="#000" stroke-width="1.5"/>
<line x1="363" y1="282.25" x2="386.3" y2="282.25" stroke="#000" stroke-width="1.5"/>
<line x1="409" y1="286.25" x2="409" y2="292" stroke="#000" stroke-width="1.5"/>
<line x1="403" y1="286.25" x2="415" y2="286.25" stroke="#000" stroke-width="1.5"/>
<line x1="409" y1="302" x2="409" y2="304.5" stroke="#000" stroke-width="1.5"/>
<line x1="403" y1="304.5" x2="415" y2="304.5" stroke="#000" stroke-width="1.5"/>
<rect x="397" y="292" width="23.75" height="10" fill="#ff3a10" stroke="#000" stroke-width="1.5"/>
<line x1="397" y1="296.25" x2="420.75" y2="296.25" stroke="#000" stroke-width="1.5"/>
<line x1="443.25" y1="302" x2="443.25" y2="311.25" stroke="#000" stroke-width="1.5"/>
<line x1="437.5" y1="302" x2="449.25" y2="302" stroke="#000" stroke-width="1.5"/>
<line x1="443.25" y1="320.75" x2="443.25" y2="323.75" stroke="#000" stroke-width="1.5"/>
<line x1="437.5" y1="323.75" x2="449.25" y2="323.75" stroke="#000" stroke-width="1.5"/>
<rect x="431.25" y="311.25" width="23.75" height="9.5" fill="#1642dc" stroke="#000" stroke-width="1.5"/>
<line x1="431.25" y1="315.75" x2="455" y2="315.75" stroke="#000" stroke-width="1.5"/>
<line x1="373" y1="249.2" x2="409.6" y2="249.2" stroke="#383838" stroke-width="1.3"/>
<line x1="373" y1="253.3" x2="445.2" y2="253.3" stroke="#383838" stroke-width="1.3"/>
<line x1="408" y1="256.5" x2="445.2" y2="256.5" stroke="#383838" stroke-width="1.3"/>
<text x="411" y="245.45" font-size="11.3" font-weight="700" text-anchor="middle">***</text>
<line x1="338" y1="323.75" x2="374.25" y2="323.75" stroke="#383838" stroke-width="1.3"/>
<line x1="338" y1="327.6" x2="409.5" y2="327.6" stroke="#383838" stroke-width="1.3"/>
<line x1="338" y1="330.9" x2="445.5" y2="330.9" stroke="#383838" stroke-width="1.3"/>
<text x="345.5" y="321.15" font-size="11.3" font-weight="700" text-anchor="middle">***</text>
<text x="340.75" y="356.4" font-size="10.7" font-weight="700" text-anchor="middle" textLength="27.5" lengthAdjust="spacingAndGlyphs">MPS I</text>
<text x="374.4" y="356.4" font-size="10.7" font-weight="700" text-anchor="middle" textLength="19.75" lengthAdjust="spacingAndGlyphs">HCT</text>
<text x="408.9" y="356.4" font-size="10.7" font-weight="700" text-anchor="middle" textLength="13.75" lengthAdjust="spacingAndGlyphs">GT</text>
<text x="443.4" y="356.4" font-size="10.7" font-weight="700" text-anchor="middle" textLength="15.75" lengthAdjust="spacingAndGlyphs">WT</text>
</g>
<g id="panelE">
<line x1="59.5" y1="390.75" x2="59.5" y2="519.75" stroke="#000" stroke-width="2"/>
<line x1="58.5" y1="518.75" x2="195" y2="518.75" stroke="#000" stroke-width="2"/>
<line x1="54" y1="391.75" x2="59.5" y2="391.75" stroke="#000" stroke-width="2"/>
<line x1="54" y1="423.25" x2="59.5" y2="423.25" stroke="#000" stroke-width="2"/>
<line x1="54" y1="455" x2="59.5" y2="455" stroke="#000" stroke-width="2"/>
<line x1="54" y1="487.25" x2="59.5" y2="487.25" stroke="#000" stroke-width="2"/>
<line x1="54" y1="518.75" x2="59.5" y2="518.75" stroke="#000" stroke-width="2"/>
<line x1="75.5" y1="518.75" x2="75.5" y2="522.95" stroke="#000" stroke-width="2"/>
<line x1="110" y1="518.75" x2="110" y2="522.95" stroke="#000" stroke-width="2"/>
<line x1="144.25" y1="518.75" x2="144.25" y2="522.95" stroke="#000" stroke-width="2"/>
<line x1="178" y1="518.75" x2="178" y2="522.95" stroke="#000" stroke-width="2"/>
<text x="53.2" y="395.45" font-size="10.7" text-anchor="end" textLength="20.8" lengthAdjust="spacingAndGlyphs">1.70</text>
<text x="53.2" y="426.95" font-size="10.7" text-anchor="end" textLength="20.8" lengthAdjust="spacingAndGlyphs">1.65</text>
<text x="53.2" y="458.7" font-size="10.7" text-anchor="end" textLength="20.8" lengthAdjust="spacingAndGlyphs">1.60</text>
<text x="53.2" y="490.95" font-size="10.7" text-anchor="end" textLength="20.8" lengthAdjust="spacingAndGlyphs">1.55</text>
<text x="53.2" y="522.45" font-size="10.7" text-anchor="end" textLength="20.8" lengthAdjust="spacingAndGlyphs">1.50</text>
<text x="14.8" y="455.4" font-size="10.4" font-weight="700" text-anchor="middle" textLength="91.9" lengthAdjust="spacingAndGlyphs" transform="rotate(-90 14.8 455.4)">Femur lenght (cm)</text>
<line x1="76" y1="420.25" x2="76" y2="442.5" stroke="#000" stroke-width="1.5"/>
<line x1="70" y1="420.25" x2="82" y2="420.25" stroke="#000" stroke-width="1.5"/>
<line x1="76" y1="485.5" x2="76" y2="493.75" stroke="#000" stroke-width="1.5"/>
<line x1="70" y1="493.75" x2="82" y2="493.75" stroke="#000" stroke-width="1.5"/>
<rect x="64.5" y="442.5" width="23.5" height="43" fill="#505050" stroke="#000" stroke-width="1.5"/>
<line x1="64.5" y1="472.5" x2="88" y2="472.5" stroke="#000" stroke-width="1.5"/>
<line x1="110.25" y1="418.75" x2="110.25" y2="428.25" stroke="#000" stroke-width="1.5"/>
<line x1="104.25" y1="418.75" x2="116.25" y2="418.75" stroke="#000" stroke-width="1.5"/>
<line x1="110.25" y1="471.25" x2="110.25" y2="473.75" stroke="#000" stroke-width="1.5"/>
<line x1="104.25" y1="473.75" x2="116.25" y2="473.75" stroke="#000" stroke-width="1.5"/>
<rect x="98.25" y="428.25" width="23.5" height="43" fill="#2f9a1f" stroke="#000" stroke-width="1.5"/>
<line x1="98.25" y1="455" x2="121.75" y2="455" stroke="#000" stroke-width="1.5"/>
<line x1="144" y1="412" x2="144" y2="427.5" stroke="#000" stroke-width="1.5"/>
<line x1="138" y1="412" x2="150" y2="412" stroke="#000" stroke-width="1.5"/>
<line x1="144" y1="440" x2="144" y2="445.5" stroke="#000" stroke-width="1.5"/>
<line x1="138" y1="445.5" x2="150" y2="445.5" stroke="#000" stroke-width="1.5"/>
<rect x="132.5" y="427.5" width="23" height="12.5" fill="#ff3a10" stroke="#000" stroke-width="1.5"/>
<line x1="132.5" y1="428.9" x2="155.5" y2="428.9" stroke="#000" stroke-width="1.5"/>
<line x1="178" y1="414.25" x2="178" y2="424.5" stroke="#000" stroke-width="1.5"/>
<line x1="172" y1="414.25" x2="183.75" y2="414.25" stroke="#000" stroke-width="1.5"/>
<line x1="178" y1="436.25" x2="178" y2="446.25" stroke="#000" stroke-width="1.5"/>
<line x1="172" y1="446.25" x2="183.75" y2="446.25" stroke="#000" stroke-width="1.5"/>
<rect x="166.25" y="424.5" width="23.25" height="11.75" fill="#1642dc" stroke="#000" stroke-width="1.5"/>
<line x1="166.25" y1="428.75" x2="189.5" y2="428.75" stroke="#000" stroke-width="1.5"/>
<line x1="73.75" y1="497.5" x2="145.75" y2="497.5" stroke="#383838" stroke-width="1.3"/>
<text x="98" y="500.15" font-size="11.3" font-weight="700" text-anchor="middle">**</text>
<line x1="73.75" y1="510" x2="175.5" y2="510" stroke="#383838" stroke-width="1.3"/>
<text x="117.5" y="512.15" font-size="11.3" font-weight="700" text-anchor="middle">***</text>
<text x="75.9" y="531.8" font-size="10.4" font-weight="700" text-anchor="middle" textLength="25.75" lengthAdjust="spacingAndGlyphs">MPS I</text>
<text x="110.1" y="531.8" font-size="10.4" font-weight="700" text-anchor="middle" textLength="18.75" lengthAdjust="spacingAndGlyphs">HCT</text>
<text x="143.5" y="531.8" font-size="10.4" font-weight="700" text-anchor="middle" textLength="13" lengthAdjust="spacingAndGlyphs">GT</text>
<text x="177.75" y="531.8" font-size="10.4" font-weight="700" text-anchor="middle" textLength="15.5" lengthAdjust="spacingAndGlyphs">WT</text>
</g>
<g id="panelF">
<line x1="319.75" y1="389.5" x2="319.75" y2="520.5" stroke="#000" stroke-width="2"/>
<line x1="318.75" y1="519.5" x2="459.5" y2="519.5" stroke="#000" stroke-width="2"/>
<line x1="314.25" y1="390.5" x2="319.75" y2="390.5" stroke="#000" stroke-width="2"/>
<line x1="314.25" y1="442" x2="319.75" y2="442" stroke="#000" stroke-width="2"/>
<line x1="314.25" y1="493.75" x2="319.75" y2="493.75" stroke="#000" stroke-width="2"/>
<line x1="337.5" y1="519.5" x2="337.5" y2="523.7" stroke="#000" stroke-width="2"/>
<line x1="372" y1="519.5" x2="372" y2="523.7" stroke="#000" stroke-width="2"/>
<line x1="407" y1="519.5" x2="407" y2="523.7" stroke="#000" stroke-width="2"/>
<line x1="441.5" y1="519.5" x2="441.5" y2="523.7" stroke="#000" stroke-width="2"/>
<text x="314.2" y="394.2" font-size="10.7" text-anchor="end" textLength="22.3" lengthAdjust="spacingAndGlyphs">0.25</text>
<text x="314.2" y="445.7" font-size="10.7" text-anchor="end" textLength="22.3" lengthAdjust="spacingAndGlyphs">0.20</text>
<text x="314.2" y="497.45" font-size="10.7" text-anchor="end" textLength="22.3" lengthAdjust="spacingAndGlyphs">0.15</text>
<text x="278.9" y="455.4" font-size="10.4" font-weight="700" text-anchor="middle" textLength="102" lengthAdjust="spacingAndGlyphs" transform="rotate(-90 278.9 455.4)">Humerus width (cm)</text>
<line x1="337.6" y1="407.5" x2="337.6" y2="432" stroke="#000" stroke-width="1.5"/>
<line x1="331.75" y1="407.5" x2="343.75" y2="407.5" stroke="#000" stroke-width="1.5"/>
<line x1="337.6" y1="443.75" x2="337.6" y2="462.25" stroke="#000" stroke-width="1.5"/>
<line x1="331.75" y1="462.25" x2="343.75" y2="462.25" stroke="#000" stroke-width="1.5"/>
<rect x="325.5" y="432" width="24" height="11.75" fill="#505050" stroke="#000" stroke-width="1.5"/>
<line x1="325.5" y1="435" x2="349.5" y2="435" stroke="#000" stroke-width="1.5"/>
<line x1="372.2" y1="441.75" x2="372.2" y2="452.5" stroke="#000" stroke-width="1.5"/>
<line x1="366.25" y1="441.75" x2="378.25" y2="441.75" stroke="#000" stroke-width="1.5"/>
<line x1="372.2" y1="468.5" x2="372.2" y2="475.75" stroke="#000" stroke-width="1.5"/>
<line x1="366.25" y1="475.75" x2="378.25" y2="475.75" stroke="#000" stroke-width="1.5"/>
<rect x="360" y="452.5" width="24.25" height="16" fill="#2f9a1f" stroke="#000" stroke-width="1.5"/>
<line x1="360" y1="462" x2="384.25" y2="462" stroke="#000" stroke-width="1.5"/>
<line x1="407" y1="448.8" x2="407" y2="468" stroke="#000" stroke-width="1.5"/>
<line x1="400.75" y1="448.8" x2="413" y2="448.8" stroke="#000" stroke-width="1.5"/>
<line x1="407" y1="478.25" x2="407" y2="485.5" stroke="#000" stroke-width="1.5"/>
<line x1="400.75" y1="485.5" x2="413" y2="485.5" stroke="#000" stroke-width="1.5"/>
<rect x="395" y="468" width="23.75" height="10.25" fill="#ff3a10" stroke="#000" stroke-width="1.5"/>
<line x1="395" y1="472.5" x2="418.75" y2="472.5" stroke="#000" stroke-width="1.5"/>
<line x1="441.5" y1="468" x2="441.5" y2="473.25" stroke="#000" stroke-width="1.5"/>
<line x1="435.5" y1="468" x2="447.5" y2="468" stroke="#000" stroke-width="1.5"/>
<line x1="441.5" y1="483" x2="441.5" y2="500" stroke="#000" stroke-width="1.5"/>
<line x1="435.5" y1="500" x2="447.5" y2="500" stroke="#000" stroke-width="1.5"/>
<rect x="429.5" y="473.25" width="24.25" height="9.75" fill="#1642dc" stroke="#000" stroke-width="1.5"/>
<line x1="429.5" y1="475.2" x2="453.75" y2="475.2" stroke="#000" stroke-width="1.5"/>
<line x1="372" y1="415.6" x2="444.6" y2="415.6" stroke="#383838" stroke-width="1.3"/>
<text x="406" y="416.15" font-size="11.3" font-weight="700" text-anchor="middle">***</text>
<line x1="372" y1="433.5" x2="408.8" y2="433.5" stroke="#383838" stroke-width="1.3"/>
<text x="389" y="435.35" font-size="11.3" font-weight="700" text-anchor="middle">**</text>
<line x1="336.75" y1="499.5" x2="373.75" y2="499.5" stroke="#383838" stroke-width="1.3"/>
<line x1="336.75" y1="503.25" x2="408.75" y2="503.25" stroke="#383838" stroke-width="1.3"/>
<line x1="336.75" y1="506.75" x2="444.5" y2="506.75" stroke="#383838" stroke-width="1.3"/>
<text x="354.25" y="501.65" font-size="11.3" font-weight="700" text-anchor="middle">***</text>
<text x="337.75" y="532.5" font-size="10.4" font-weight="700" text-anchor="middle" textLength="25.5" lengthAdjust="spacingAndGlyphs">MPS I</text>
<text x="372.5" y="532.5" font-size="10.4" font-weight="700" text-anchor="middle" textLength="18.5" lengthAdjust="spacingAndGlyphs">HCT</text>
<text x="406.6" y="532.5" font-size="10.4" font-weight="700" text-anchor="middle" textLength="13.25" lengthAdjust="spacingAndGlyphs">GT</text>
<text x="441.5" y="532.5" font-size="10.4" font-weight="700" text-anchor="middle" textLength="15.5" lengthAdjust="spacingAndGlyphs">WT</text>
</g>
<g id="panelG">
<line x1="48.3" y1="582.15" x2="48.3" y2="701.65" stroke="#000" stroke-width="1.9"/>
<line x1="47.35" y1="700.7" x2="118.8" y2="700.7" stroke="#000" stroke-width="1.9"/>
<line x1="44" y1="583.1" x2="48.3" y2="583.1" stroke="#000" stroke-width="1.9"/>
<line x1="44" y1="612.6" x2="48.3" y2="612.6" stroke="#000" stroke-width="1.9"/>
<line x1="44" y1="642" x2="48.3" y2="642" stroke="#000" stroke-width="1.9"/>
<line x1="44" y1="671.6" x2="48.3" y2="671.6" stroke="#000" stroke-width="1.9"/>
<line x1="66.25" y1="700.7" x2="66.25" y2="704.7" stroke="#000" stroke-width="1.9"/>
<line x1="102" y1="700.7" x2="102" y2="704.7" stroke="#000" stroke-width="1.9"/>
<text x="43.5" y="586.4" font-size="9.2" font-weight="700" text-anchor="end" textLength="16.6" lengthAdjust="spacingAndGlyphs">1.70</text>
<text x="43.5" y="615.9" font-size="9.2" font-weight="700" text-anchor="end" textLength="16.6" lengthAdjust="spacingAndGlyphs">1.65</text>
<text x="43.5" y="645.3" font-size="9.2" font-weight="700" text-anchor="end" textLength="16.6" lengthAdjust="spacingAndGlyphs">1.60</text>
<text x="43.5" y="674.9" font-size="9.2" font-weight="700" text-anchor="end" textLength="16.6" lengthAdjust="spacingAndGlyphs">1.55</text>
<text x="21.9" y="642.1" font-size="9.5" font-weight="700" text-anchor="middle" textLength="84.3" lengthAdjust="spacingAndGlyphs" transform="rotate(-90 21.9 642.1)">Femur lenght (cm)</text>
<line x1="66.5" y1="600.5" x2="66.5" y2="618" stroke="#000" stroke-width="1.5"/>
<line x1="60" y1="600.5" x2="72.5" y2="600.5" stroke="#000" stroke-width="1.5"/>
<line x1="66.5" y1="654.25" x2="66.5" y2="682.25" stroke="#000" stroke-width="1.5"/>
<line x1="60" y1="682.25" x2="72.5" y2="682.25" stroke="#000" stroke-width="1.5"/>
<rect x="55" y="618" width="23" height="36.25" fill="#ff3a10" stroke="#000" stroke-width="1.5"/>
<line x1="102" y1="602" x2="102" y2="603.75" stroke="#000" stroke-width="1.5"/>
<line x1="96.25" y1="602" x2="107.5" y2="602" stroke="#000" stroke-width="1.5"/>
<rect x="89.5" y="603.75" width="24.25" height="13.25" fill="#ff3a10" stroke="#000" stroke-width="1.5"/>
<line x1="89.5" y1="612.5" x2="113.75" y2="612.5" stroke="#000" stroke-width="1.5"/>
<line x1="64.5" y1="591.25" x2="100" y2="591.25" stroke="#383838" stroke-width="1.3"/>
<text x="82" y="592.4" font-size="11.3" font-weight="700" text-anchor="middle">*</text>
<text x="66" y="712" font-size="9.7" font-weight="700" text-anchor="middle" textLength="24.8" lengthAdjust="spacingAndGlyphs">&lt;1500</text>
<text x="101.6" y="712" font-size="9.7" font-weight="700" text-anchor="middle" textLength="24.6" lengthAdjust="spacingAndGlyphs">&gt;1500</text>
<text x="82.8" y="726.3" font-size="9.9" font-weight="700" text-anchor="middle" textLength="94.6" lengthAdjust="spacingAndGlyphs">IDUA activity - PBMC</text>
<text x="83.4" y="737.7" font-size="9.9" font-weight="700" text-anchor="middle" textLength="54" lengthAdjust="spacingAndGlyphs">(nmol/mg/h)</text>
</g>
<g id="panelH1">
<line x1="183.2" y1="582.05" x2="183.2" y2="711.75" stroke="#000" stroke-width="1.9"/>
<line x1="182.25" y1="710.8" x2="326.25" y2="710.8" stroke="#000" stroke-width="1.9"/>
<line x1="178.4" y1="583" x2="183.2" y2="583" stroke="#000" stroke-width="1.9"/>
<line x1="178.4" y1="615" x2="183.2" y2="615" stroke="#000" stroke-width="1.9"/>
<line x1="178.4" y1="647.1" x2="183.2" y2="647.1" stroke="#000" stroke-width="1.9"/>
<line x1="178.4" y1="678.9" x2="183.2" y2="678.9" stroke="#000" stroke-width="1.9"/>
<line x1="178.4" y1="710.8" x2="183.2" y2="710.8" stroke="#000" stroke-width="1.9"/>
<line x1="201.25" y1="710.8" x2="201.25" y2="714.4" stroke="#000" stroke-width="1.9"/>
<line x1="236.5" y1="710.8" x2="236.5" y2="714.4" stroke="#000" stroke-width="1.9"/>
<line x1="272.5" y1="710.8" x2="272.5" y2="714.4" stroke="#000" stroke-width="1.9"/>
<line x1="307.5" y1="710.8" x2="307.5" y2="714.4" stroke="#000" stroke-width="1.9"/>
<text x="178" y="586.3" font-size="9.2" font-weight="700" text-anchor="end" textLength="16.9" lengthAdjust="spacingAndGlyphs">1.25</text>
<text x="178" y="618.3" font-size="9.2" font-weight="700" text-anchor="end" textLength="16.9" lengthAdjust="spacingAndGlyphs">1.00</text>
<text x="178" y="650.4" font-size="9.2" font-weight="700" text-anchor="end" textLength="16.9" lengthAdjust="spacingAndGlyphs">0.75</text>
<text x="178" y="682.2" font-size="9.2" font-weight="700" text-anchor="end" textLength="16.9" lengthAdjust="spacingAndGlyphs">0.50</text>
<text x="178" y="714.1" font-size="9.2" font-weight="700" text-anchor="end" textLength="16.9" lengthAdjust="spacingAndGlyphs">0.25</text>
<text x="154.5" y="646.3" font-size="9.5" font-weight="700" text-anchor="middle" textLength="136.7" lengthAdjust="spacingAndGlyphs" transform="rotate(-90 154.5 646.3)">Femur diaphysis - SSI (mm^3)</text>
<line x1="201" y1="599.25" x2="201" y2="623.75" stroke="#000" stroke-width="1.5"/>
<line x1="195" y1="599.25" x2="207" y2="599.25" stroke="#000" stroke-width="1.5"/>
<line x1="201" y1="636.25" x2="201" y2="649" stroke="#000" stroke-width="1.5"/>
<line x1="195" y1="649" x2="207" y2="649" stroke="#000" stroke-width="1.5"/>
<rect x="189.25" y="623.75" width="23.75" height="12.5" fill="#505050" stroke="#000" stroke-width="1.5"/>
<line x1="189.25" y1="630.5" x2="213" y2="630.5" stroke="#000" stroke-width="1.5"/>
<line x1="237" y1="644.4" x2="237" y2="651" stroke="#000" stroke-width="1.5"/>
<line x1="231.25" y1="644.4" x2="242.5" y2="644.4" stroke="#000" stroke-width="1.5"/>
<line x1="237" y1="666" x2="237" y2="674" stroke="#000" stroke-width="1.5"/>
<line x1="231.25" y1="674" x2="242.5" y2="674" stroke="#000" stroke-width="1.5"/>
<rect x="225" y="651" width="23.75" height="15" fill="#2f9a1f" stroke="#000" stroke-width="1.5"/>
<line x1="225" y1="661.5" x2="248.75" y2="661.5" stroke="#000" stroke-width="1.5"/>
<line x1="272.5" y1="657.2" x2="272.5" y2="665.5" stroke="#000" stroke-width="1.5"/>
<line x1="266.25" y1="657.2" x2="278.75" y2="657.2" stroke="#000" stroke-width="1.5"/>
<rect x="260" y="665.5" width="24.25" height="11.75" fill="#ff3a10" stroke="#000" stroke-width="1.5"/>
<line x1="260" y1="673.5" x2="284.25" y2="673.5" stroke="#000" stroke-width="1.5"/>
<line x1="307.5" y1="669.75" x2="307.5" y2="671.75" stroke="#000" stroke-width="1.5"/>
<line x1="301.25" y1="669.75" x2="313.75" y2="669.75" stroke="#000" stroke-width="1.5"/>
<line x1="307.5" y1="686" x2="307.5" y2="698" stroke="#000" stroke-width="1.5"/>
<line x1="301.25" y1="698" x2="313.75" y2="698" stroke="#000" stroke-width="1.5"/>
<rect x="295.5" y="671.75" width="24.5" height="14.25" fill="#1642dc" stroke="#000" stroke-width="1.5"/>
<line x1="295.5" y1="676.75" x2="320" y2="676.75" stroke="#000" stroke-width="1.5"/>
<line x1="233.75" y1="626.75" x2="306.25" y2="626.75" stroke="#383838" stroke-width="1.3"/>
<text x="267.5" y="628.65" font-size="11.3" font-weight="700" text-anchor="middle">***</text>
<line x1="233.75" y1="638.5" x2="270" y2="638.5" stroke="#383838" stroke-width="1.3"/>
<text x="251.25" y="641.15" font-size="11.3" font-weight="700" text-anchor="middle">*</text>
<line x1="198.25" y1="697.25" x2="235" y2="697.25" stroke="#383838" stroke-width="1.3"/>
<line x1="198.25" y1="701" x2="270" y2="701" stroke="#383838" stroke-width="1.3"/>
<line x1="198.25" y1="704.25" x2="306.25" y2="704.25" stroke="#383838" stroke-width="1.3"/>
<text x="216.75" y="698.65" font-size="11.3" font-weight="700" text-anchor="middle">***</text>
<text x="200.9" y="722.4" font-size="9.3" font-weight="700" text-anchor="middle" textLength="24.25" lengthAdjust="spacingAndGlyphs">MPS I</text>
<text x="236.6" y="722.4" font-size="9.3" font-weight="700" text-anchor="middle" textLength="16.75" lengthAdjust="spacingAndGlyphs">HCT</text>
<text x="271.6" y="722.4" font-size="9.3" font-weight="700" text-anchor="middle" textLength="11.75" lengthAdjust="spacingAndGlyphs">GT</text>
<text x="307.6" y="722.4" font-size="9.3" font-weight="700" text-anchor="middle" textLength="13.75" lengthAdjust="spacingAndGlyphs">WT</text>
</g>
<g id="panelH2">
<line x1="371.3" y1="583.05" x2="371.3" y2="712.75" stroke="#000" stroke-width="1.9"/>
<line x1="370.35" y1="711.8" x2="513.7" y2="711.8" stroke="#000" stroke-width="1.9"/>
<line x1="366.5" y1="584" x2="371.3" y2="584" stroke="#000" stroke-width="1.9"/>
<line x1="366.5" y1="616" x2="371.3" y2="616" stroke="#000" stroke-width="1.9"/>
<line x1="366.5" y1="647.9" x2="371.3" y2="647.9" stroke="#000" stroke-width="1.9"/>
<line x1="366.5" y1="679.9" x2="371.3" y2="679.9" stroke="#000" stroke-width="1.9"/>
<line x1="366.5" y1="711.8" x2="371.3" y2="711.8" stroke="#000" stroke-width="1.9"/>
<line x1="389.5" y1="711.8" x2="389.5" y2="715.4" stroke="#000" stroke-width="1.9"/>
<line x1="424.75" y1="711.8" x2="424.75" y2="715.4" stroke="#000" stroke-width="1.9"/>
<line x1="460" y1="711.8" x2="460" y2="715.4" stroke="#000" stroke-width="1.9"/>
<line x1="495.6" y1="711.8" x2="495.6" y2="715.4" stroke="#000" stroke-width="1.9"/>
<text x="366.4" y="587.3" font-size="9.2" font-weight="700" text-anchor="end" textLength="16.8" lengthAdjust="spacingAndGlyphs">1.25</text>
<text x="366.4" y="619.3" font-size="9.2" font-weight="700" text-anchor="end" textLength="16.8" lengthAdjust="spacingAndGlyphs">1.00</text>
<text x="366.4" y="651.2" font-size="9.2" font-weight="700" text-anchor="end" textLength="16.8" lengthAdjust="spacingAndGlyphs">0.75</text>
<text x="366.4" y="683.2" font-size="9.2" font-weight="700" text-anchor="end" textLength="16.8" lengthAdjust="spacingAndGlyphs">0.50</text>
<text x="366.4" y="715.1" font-size="9.2" font-weight="700" text-anchor="end" textLength="16.8" lengthAdjust="spacingAndGlyphs">0.25</text>
<text x="344.7" y="648.9" font-size="9.4" font-weight="700" text-anchor="middle" textLength="125.8" lengthAdjust="spacingAndGlyphs" transform="rotate(-90 344.7 648.9)">Tibia diaphysis - SSI (mm^3)</text>
<line x1="389.4" y1="601.25" x2="389.4" y2="629.25" stroke="#000" stroke-width="1.5"/>
<line x1="383.25" y1="601.25" x2="395.5" y2="601.25" stroke="#000" stroke-width="1.5"/>
<line x1="389.4" y1="648" x2="389.4" y2="656.5" stroke="#000" stroke-width="1.5"/>
<line x1="383.25" y1="656.5" x2="395.5" y2="656.5" stroke="#000" stroke-width="1.5"/>
<rect x="377.5" y="629.25" width="23.75" height="18.75" fill="#505050" stroke="#000" stroke-width="1.5"/>
<line x1="377.5" y1="638.75" x2="401.25" y2="638.75" stroke="#000" stroke-width="1.5"/>
<line x1="424.75" y1="656.6" x2="424.75" y2="671" stroke="#000" stroke-width="1.5"/>
<line x1="418.5" y1="656.6" x2="430.75" y2="656.6" stroke="#000" stroke-width="1.5"/>
<line x1="424.75" y1="683.5" x2="424.75" y2="693" stroke="#000" stroke-width="1.5"/>
<line x1="418.5" y1="693" x2="430.75" y2="693" stroke="#000" stroke-width="1.5"/>
<rect x="412.5" y="671" width="24.25" height="12.5" fill="#2f9a1f" stroke="#000" stroke-width="1.5"/>
<line x1="412.5" y1="677.25" x2="436.75" y2="677.25" stroke="#000" stroke-width="1.5"/>
<line x1="460" y1="681.4" x2="460" y2="687" stroke="#000" stroke-width="1.5"/>
<line x1="453.7" y1="681.4" x2="466.5" y2="681.4" stroke="#000" stroke-width="1.5"/>
<line x1="460" y1="695.4" x2="460" y2="706" stroke="#000" stroke-width="1.5"/>
<line x1="453.7" y1="706" x2="466.5" y2="706" stroke="#000" stroke-width="1.5"/>
<rect x="447.5" y="687" width="24.8" height="8.4" fill="#ff3a10" stroke="#000" stroke-width="1.5"/>
<line x1="447.5" y1="691.2" x2="472.3" y2="691.2" stroke="#000" stroke-width="1.5"/>
<line x1="495.6" y1="684.8" x2="495.6" y2="696.2" stroke="#000" stroke-width="1.5"/>
<line x1="489.2" y1="684.8" x2="501.7" y2="684.8" stroke="#000" stroke-width="1.5"/>
<line x1="495.6" y1="706.4" x2="495.6" y2="708" stroke="#000" stroke-width="1.5"/>
<line x1="489.2" y1="708" x2="501.7" y2="708" stroke="#000" stroke-width="1.5"/>
<rect x="483.5" y="696.2" width="24.5" height="10.2" fill="#1642dc" stroke="#000" stroke-width="1.5"/>
<line x1="483.5" y1="700.2" x2="508" y2="700.2" stroke="#000" stroke-width="1.5"/>
<line x1="388.25" y1="589.25" x2="425.4" y2="589.25" stroke="#383838" stroke-width="1.3"/>
<line x1="388.25" y1="593" x2="460" y2="593" stroke="#383838" stroke-width="1.3"/>
<line x1="388.25" y1="596.25" x2="496" y2="596.25" stroke="#383838" stroke-width="1.3"/>
<text x="408" y="590.65" font-size="11.3" font-weight="700" text-anchor="middle">***</text>
<line x1="422.9" y1="634.8" x2="494.6" y2="634.8" stroke="#383838" stroke-width="1.3"/>
<text x="456.5" y="637.15" font-size="11.3" font-weight="700" text-anchor="middle">***</text>
<line x1="422.9" y1="652.9" x2="459" y2="652.9" stroke="#383838" stroke-width="1.3"/>
<text x="440.8" y="654.85" font-size="11.3" font-weight="700" text-anchor="middle">**</text>
<text x="389.75" y="723" font-size="9.3" font-weight="700" text-anchor="middle" textLength="24.5" lengthAdjust="spacingAndGlyphs">MPS I</text>
<text x="424.1" y="723" font-size="9.3" font-weight="700" text-anchor="middle" textLength="16.75" lengthAdjust="spacingAndGlyphs">HCT</text>
<text x="460" y="723" font-size="9.3" font-weight="700" text-anchor="middle" textLength="12.5" lengthAdjust="spacingAndGlyphs">GT</text>
<text x="495.5" y="723" font-size="9.3" font-weight="700" text-anchor="middle" textLength="13.6" lengthAdjust="spacingAndGlyphs">WT</text>
</g>
</svg></body></html>
